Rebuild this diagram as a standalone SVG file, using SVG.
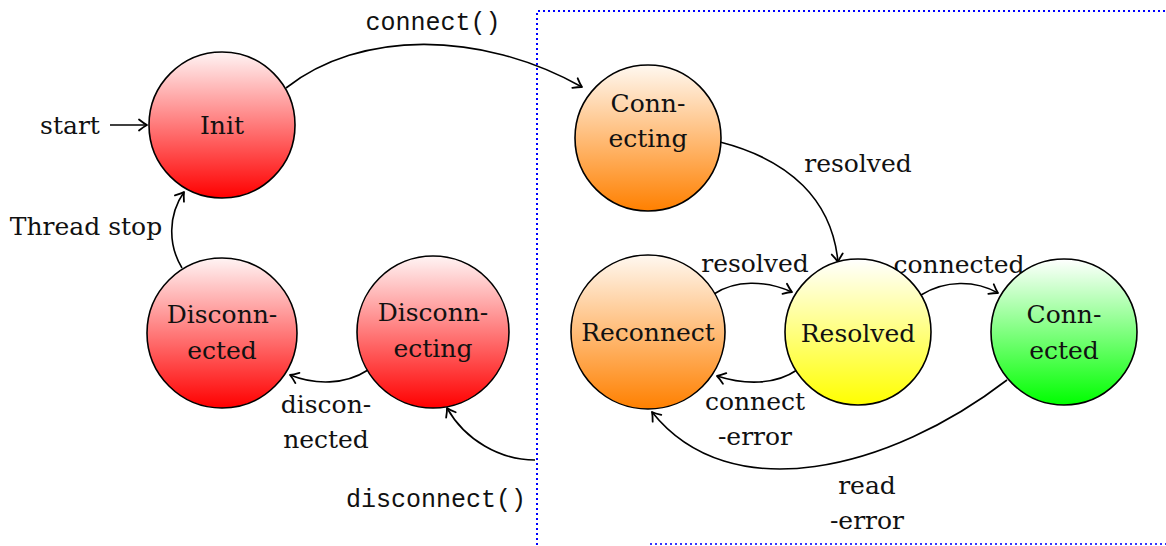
<svg xmlns="http://www.w3.org/2000/svg" width="1166" height="546" viewBox="0 0 1166 546">
  <defs>
    <linearGradient id="gRed" x1="0" y1="0" x2="0" y2="1">
      <stop offset="0" stop-color="#fff4f4"/>
      <stop offset="1" stop-color="#ff0000"/>
    </linearGradient>
    <linearGradient id="gOrange" x1="0" y1="0" x2="0" y2="1">
      <stop offset="0" stop-color="#fff8f0"/>
      <stop offset="1" stop-color="#ff8000"/>
    </linearGradient>
    <linearGradient id="gYellow" x1="0" y1="0" x2="0" y2="1">
      <stop offset="0" stop-color="#ffffff"/>
      <stop offset="1" stop-color="#ffff00"/>
    </linearGradient>
    <linearGradient id="gGreen" x1="0" y1="0" x2="0" y2="1">
      <stop offset="0" stop-color="#ffffff"/>
      <stop offset="1" stop-color="#00ff00"/>
    </linearGradient>
    <marker id="arrow" markerUnits="userSpaceOnUse" markerWidth="16" markerHeight="16" refX="0" refY="0" viewBox="-10 -8 12 16" orient="auto" overflow="visible">
      <path d="M-8,-5.5 Q-3,-1.5 0,0 Q-3,1.5 -8,5.5" fill="none" stroke="#000" stroke-width="1.8" stroke-linecap="round" stroke-linejoin="round"/>
    </marker>
  </defs>
  <style>
    .state { stroke: #000; stroke-width: 1.6; }
    .lbl { font-family: 'DejaVu Serif', serif; font-size: 25px; fill: #111; text-anchor: middle; }
    .code { font-family: 'Liberation Mono', 'DejaVu Sans Mono', monospace; font-size: 25px; fill: #111; text-anchor: middle; }
    .edge { fill: none; stroke: #000; stroke-width: 1.6; marker-end: url(#arrow); }
    .frame { fill: none; stroke: #0000ff; stroke-width: 2; stroke-dasharray: 2 3; }
  </style>

  <rect width="1166" height="546" fill="#ffffff"/>

  <!-- dotted region boundary -->
  <path class="frame" d="M537,545 L537,11 L1166,11"/>
  <path class="frame" d="M650,544 L1166,544" stroke-opacity="0.8"/>

  <!-- transitions -->
  <g id="connectors">
    <path class="edge" d="M110,125 L147,125"/>
    <path class="edge" d="M286,88 C360,30 480,30 582,87"/>
    <path class="edge" d="M720,142 C790,160 832,200 838,262"/>
    <path class="edge" d="M714,294 C735,280 765,280 792,292"/>
    <path class="edge" d="M921,295 C945,280 975,280 998,293"/>
    <path class="edge" d="M797,370 C775,385 745,385 717,376"/>
    <path class="edge" d="M1007,380 C890,470 730,510 652,412"/>
    <path class="edge" d="M368,370 C345,385 315,385 290,375"/>
    <path class="edge" d="M182,268 C168,245 168,215 184,192"/>
    <path class="edge" d="M535,460 C500,460 465,440 447,408"/>

    <text class="lbl" x="70" y="134">start</text>
    <text class="code" x="433" y="30">connect()</text>
    <text class="lbl" x="858" y="172">resolved</text>
    <text class="lbl" x="755" y="272">resolved</text>
    <text class="lbl" x="959" y="273">connected</text>
    <text class="lbl" x="755" y="410">connect</text>
    <text class="lbl" x="755" y="445">-error</text>
    <text class="lbl" x="867" y="494">read</text>
    <text class="lbl" x="867" y="529">-error</text>
    <text class="lbl" x="326" y="413">discon-</text>
    <text class="lbl" x="326" y="448">nected</text>
    <text class="lbl" x="86" y="235">Thread stop</text>
    <text class="code" x="436" y="507">disconnect()</text>
  </g>

  <g id="init">
    <circle class="state" cx="222" cy="125" r="73" fill="url(#gRed)"/>
    <text class="lbl" x="222" y="134">Init</text>
  </g>

  <g id="connecting">
    <circle class="state" cx="648" cy="138" r="73" fill="url(#gOrange)"/>
    <text class="lbl" x="648" y="112">Conn-</text>
    <text class="lbl" x="648" y="147">ecting</text>
  </g>

  <g id="disconnected">
    <circle class="state" cx="222" cy="333" r="75" fill="url(#gRed)"/>
    <text class="lbl" x="222" y="323">Disconn-</text>
    <text class="lbl" x="222" y="359">ected</text>
  </g>

  <g id="disconnecting">
    <circle class="state" cx="433" cy="332" r="76" fill="url(#gRed)"/>
    <text class="lbl" x="433" y="321">Disconn-</text>
    <text class="lbl" x="433" y="357">ecting</text>
  </g>

  <g id="reconnect">
    <circle class="state" cx="648" cy="332" r="77" fill="url(#gOrange)"/>
    <text class="lbl" x="648" y="341">Reconnect</text>
  </g>

  <g id="resolved">
    <circle class="state" cx="858" cy="332" r="73" fill="url(#gYellow)"/>
    <text class="lbl" x="858" y="342">Resolved</text>
  </g>

  <g id="connected">
    <circle class="state" cx="1064" cy="332" r="73" fill="url(#gGreen)"/>
    <text class="lbl" x="1064" y="323">Conn-</text>
    <text class="lbl" x="1064" y="359">ected</text>
  </g>
</svg>
